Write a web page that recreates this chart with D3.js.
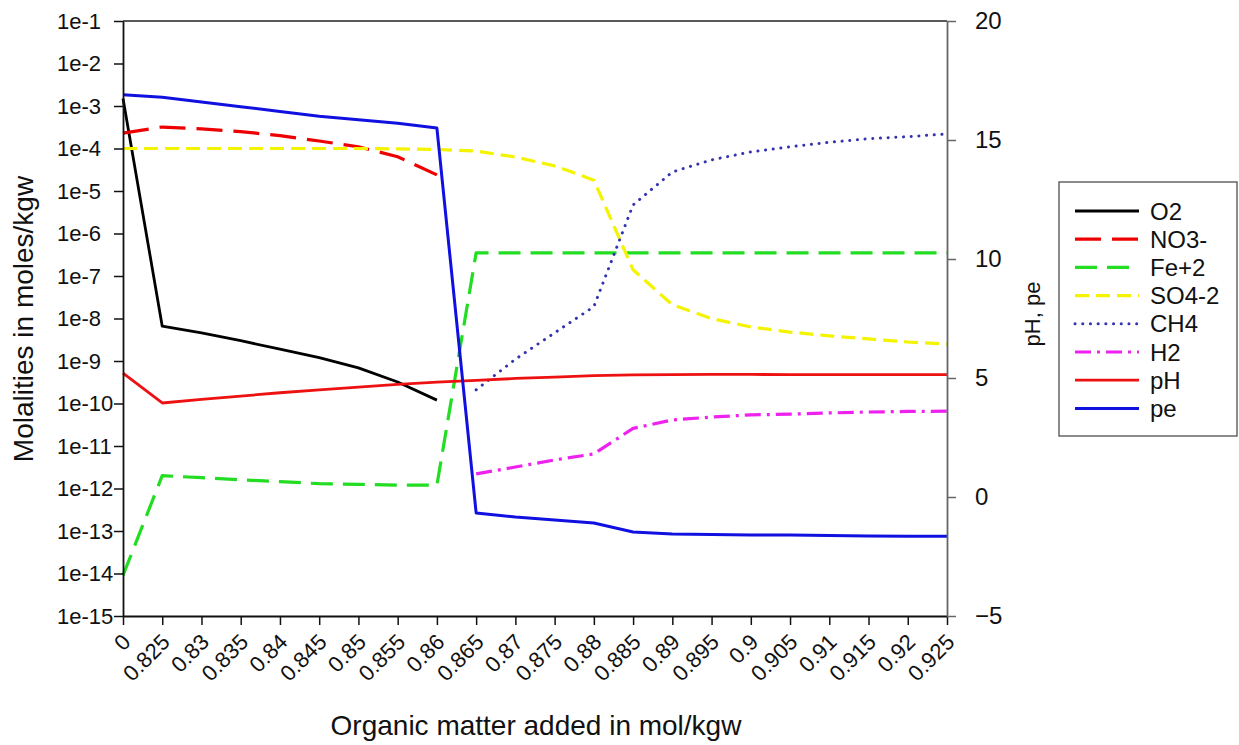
<!DOCTYPE html>
<html>
<head>
<meta charset="utf-8">
<script src="https://cdn.jsdelivr.net/npm/d3@7"></script>
<style>
  body { margin: 0; background: #fff; }
  svg text { font-family: "Liberation Sans", Arial, sans-serif; fill: #111; }
</style>
</head>
<body>
<div id="chart"></div>
<script>

// x categories (organic matter added, mol/kgw)

var xLabels = ["0", "0.825", "0.83", "0.835", "0.84", "0.845", "0.85", "0.855", "0.86", "0.865",
	"0.87", "0.875", "0.88", "0.885", "0.89", "0.895", "0.9", "0.905", "0.91", "0.915", "0.92", "0.925"];

// molalities (left log axis), null where the species is not plotted

var o2 = [1.5e-3, 6.6e-9, 4.6e-9, 3.0e-9, 1.9e-9, 1.2e-9, 6.9e-10, 3.2e-10, 1.2e-10,
	null, null, null, null, null, null, null, null, null, null, null, null, null];

var no3 = [2.3e-4, 3.2e-4, 2.9e-4, 2.5e-4, 2.0e-4, 1.5e-4, 1.1e-4, 6.4e-5, 2.4e-5,
	null, null, null, null, null, null, null, null, null, null, null, null, null];

var fe2 = [9e-15, 2.0e-12, 1.8e-12, 1.6e-12, 1.45e-12, 1.3e-12, 1.25e-12, 1.2e-12, 1.2e-12,
	3.5e-7, 3.5e-7, 3.5e-7, 3.5e-7, 3.5e-7, 3.5e-7, 3.5e-7, 3.5e-7, 3.5e-7, 3.5e-7, 3.5e-7, 3.5e-7, 3.5e-7];

var so4 = [1.0e-4, 1.0e-4, 1.0e-4, 1.0e-4, 1.0e-4, 1.0e-4, 1.0e-4, 9.8e-5, 9.5e-5,
	8.7e-5, 6.3e-5, 3.9e-5, 1.8e-5, 1.4e-7, 2.1e-8, 1.0e-8, 6.3e-9, 4.8e-9, 3.9e-9, 3.3e-9, 2.8e-9, 2.5e-9];

var ch4 = [null, null, null, null, null, null, null, null, null,
	2.1e-10, 1.1e-9, 4.6e-9, 1.9e-8, 4.7e-6, 2.8e-5, 5.4e-5, 8.3e-5, 1.1e-4, 1.4e-4, 1.7e-4, 1.9e-4, 2.2e-4];

var h2 = [null, null, null, null, null, null, null, null, null,
	2.2e-12, 3.2e-12, 4.7e-12, 6.5e-12, 2.6e-11, 4.1e-11, 4.8e-11, 5.4e-11, 5.6e-11, 6.0e-11, 6.3e-11, 6.5e-11, 6.6e-11];

// pH and pe (right linear axis)

var ph = [5.2, 3.95, 4.1, 4.24, 4.38, 4.5, 4.62, 4.73, 4.83, 4.9, 4.98, 5.04, 5.1, 5.13,
	5.14, 5.15, 5.15, 5.14, 5.14, 5.14, 5.14, 5.14];

var pe = [16.9, 16.8, 16.6, 16.4, 16.2, 16.0, 15.85, 15.7, 15.5, -0.67, -0.84, -0.97, -1.09, -1.47,
	-1.55, -1.58, -1.6, -1.6, -1.62, -1.64, -1.65, -1.65];

// tick values

var leftTicks = [1e-1, 1e-2, 1e-3, 1e-4, 1e-5, 1e-6, 1e-7, 1e-8, 1e-9, 1e-10, 1e-11, 1e-12, 1e-13, 1e-14, 1e-15];
var rightTicks = [-5, 0, 5, 10, 15, 20];

// series list (legend order = draw order)

var series = [
	{ name: "O2", values: o2, axis: "left", color: "#000000", dash: null, width: 2.8 },
	{ name: "NO3-", values: no3, axis: "left", color: "#ee0000", dash: "26,11", width: 3.2 },
	{ name: "Fe+2", values: fe2, axis: "left", color: "#22dd22", dash: "22,10", width: 3.2 },
	{ name: "SO4-2", values: so4, axis: "left", color: "#f4f400", dash: "14,7", width: 3.2 },
	{ name: "CH4", values: ch4, axis: "left", color: "#3434b0", dash: "0.1,7.6", width: 3 },
	{ name: "H2", values: h2, axis: "left", color: "#ee22ee", dash: "16,6,3,6", width: 3.2 },
	{ name: "pH", values: ph, axis: "right", color: "#ee1111", dash: null, width: 2.8 },
	{ name: "pe", values: pe, axis: "right", color: "#1010e0", dash: null, width: 3 }
];

// chart dimensions

var svgWidth = 1239;
var svgHeight = 745;

var margin = { top: 21, right: 292, bottom: 129, left: 123 };

var width = svgWidth - margin.left - margin.right;
var height = svgHeight - margin.top - margin.bottom;

var svg = d3.select("#chart")
	.append("svg")
	.attr("width", svgWidth)
	.attr("height", svgHeight);

var chartGroup = svg.append("g")
	.attr("transform", `translate(${margin.left}, ${margin.top})`);

// scales

var xScale = d3.scalePoint()
	.domain(xLabels)
	.range([0, width])
	.padding(0);

var yLeft = d3.scaleLog()
	.domain([1e-15, 1e-1])
	.range([height, 0]);

var yRight = d3.scaleLinear()
	.domain([-5, 20])
	.range([height, 0]);

// top frame line

chartGroup.append("line")
	.attr("x1", 0)
	.attr("x2", width)
	.attr("y1", 0)
	.attr("y2", 0)
	.attr("stroke", "#222")
	.attr("stroke-width", 1.5);

// lines

series.forEach(function(s) {
	var yS = s.axis === "left" ? yLeft : yRight;
	var line = d3.line()
		.defined(d => d !== null)
		.x((d, i) => xScale(xLabels[i]))
		.y(d => yS(d));

	chartGroup.append("path")
		.datum(s.values)
		.attr("fill", "none")
		.attr("stroke", s.color)
		.attr("stroke-width", s.width)
		.attr("stroke-dasharray", s.dash)
		.attr("stroke-linecap", s.name === "CH4" ? "round" : "butt")
		.attr("stroke-linejoin", "round")
		.attr("d", line);
});

// bottom axis

var bottomAxis = d3.axisBottom(xScale)
	.tickSizeInner(9)
	.tickSizeOuter(0);

var xAxis = chartGroup.append("g")
	.attr("transform", `translate(0, ${height})`)
	.call(bottomAxis);

xAxis.select(".domain").attr("stroke", "#111").attr("stroke-width", 1.8);
xAxis.selectAll(".tick line").attr("stroke", "#111").attr("stroke-width", 1.5);
xAxis.selectAll(".tick text")
	.attr("font-size", 22)
	.attr("text-anchor", "end")
	.attr("x", 0)
	.attr("y", 0)
	.attr("dy", "0.35em")
	.attr("transform", "translate(3, 22) rotate(-45)")
	.style("font-family", "'Liberation Sans', Arial, sans-serif");

// left axis

var leftAxis = d3.axisLeft(yLeft)
	.tickValues(leftTicks)
	.tickFormat(d => "1e" + Math.round(Math.log10(d)))
	.tickSizeInner(9)
	.tickSizeOuter(0);

var yAxisLeft = chartGroup.append("g")
	.call(leftAxis);

yAxisLeft.select(".domain").attr("stroke", "#111").attr("stroke-width", 1.8);
yAxisLeft.selectAll(".tick line").attr("stroke", "#111").attr("stroke-width", 1.5);
yAxisLeft.selectAll(".tick text")
	.attr("font-size", 22)
	.attr("text-anchor", "start")
	.attr("x", -66)
	.style("font-family", "'Liberation Sans', Arial, sans-serif");

// right axis

var rightAxis = d3.axisRight(yRight)
	.tickValues(rightTicks)
	.tickSizeInner(9)
	.tickSizeOuter(0);

var yAxisRight = chartGroup.append("g")
	.attr("transform", `translate(${width}, 0)`)
	.call(rightAxis);

yAxisRight.select(".domain").attr("stroke", "#666").attr("stroke-width", 1.8);
yAxisRight.selectAll(".tick line").attr("stroke", "#666").attr("stroke-width", 1.5);
yAxisRight.selectAll(".tick text")
	.attr("font-size", 24)
	.attr("x", 28)
	.style("font-family", "'Liberation Sans', Arial, sans-serif");

// axis titles

svg.append("text")
	.attr("x", 536)
	.attr("y", 735)
	.attr("text-anchor", "middle")
	.attr("font-size", 28)
	.text("Organic matter added in mol/kgw");

svg.append("text")
	.attr("transform", "rotate(-90)")
	.attr("x", -319)
	.attr("y", 33)
	.attr("text-anchor", "middle")
	.attr("font-size", 28)
	.text("Molalities in moles/kgw");

svg.append("text")
	.attr("transform", "rotate(-90)")
	.attr("x", -314)
	.attr("y", 1040)
	.attr("text-anchor", "middle")
	.attr("font-size", 22)
	.text("pH, pe");

// legend

var legend = svg.append("g")
	.attr("transform", "translate(1059, 182)");

legend.append("rect")
	.attr("width", 178)
	.attr("height", 254)
	.attr("fill", "#fff")
	.attr("stroke", "#666")
	.attr("stroke-width", 1.5);

var legendItems = legend.selectAll(".legend-item")
	.data(series)
	.enter()
	.append("g")
	.attr("transform", (d, i) => `translate(0, ${29 + i * 28.2})`);

legendItems.append("line")
	.attr("x1", 16)
	.attr("x2", 80)
	.attr("y1", 0)
	.attr("y2", 0)
	.attr("stroke", d => d.color)
	.attr("stroke-width", d => d.width)
	.attr("stroke-dasharray", d => d.dash)
	.attr("stroke-linecap", d => d.name === "CH4" ? "round" : "butt");

legendItems.append("text")
	.attr("x", 91)
	.attr("y", 0)
	.attr("dy", "0.36em")
	.attr("font-size", 24)
	.text(d => d.name);

</script>
</body>
</html>
